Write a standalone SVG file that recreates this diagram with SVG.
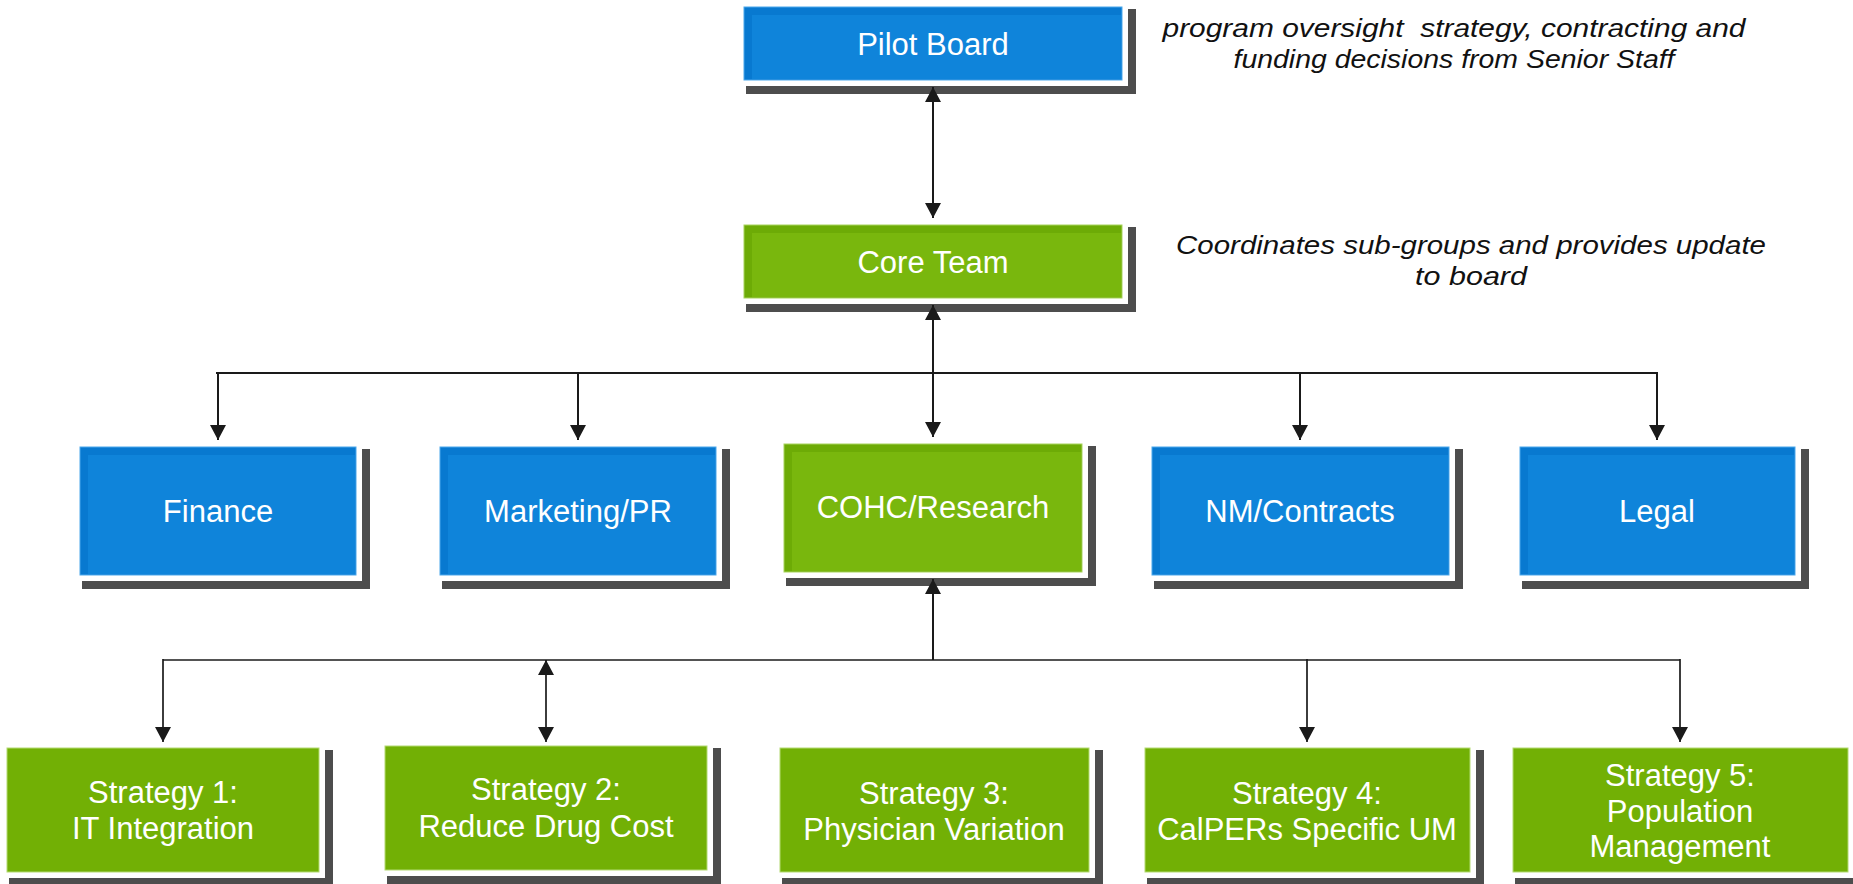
<svg xmlns="http://www.w3.org/2000/svg" width="1853" height="884" viewBox="0 0 1853 884">
<style>
  .shadow { fill: #4d4d4d; }
  .gap { fill: #ffffff; }
  .blue .box { fill: #0879d0; stroke: #4aa8ec; stroke-width: 1; }
  .blue .inner { fill: #0f84da; }
  .green .box { fill: #6dab06; stroke: #a8d35c; stroke-width: 1; }
  .green .inner { fill: #79b70d; }
  .flat .box { fill: #72b005; stroke: #b3da72; stroke-width: 1; }
  .label { fill: #ffffff; font-family: "Liberation Sans", Arial, sans-serif; font-size: 31px; text-anchor: middle; }
  .note { fill: #111111; font-family: "Liberation Sans", Arial, sans-serif; font-size: 26px; font-style: italic; text-anchor: middle; white-space: pre; }
  .conn { fill: none; stroke: #1a1a1a; stroke-width: 2; }
  .conn2 { fill: none; stroke: #1a1a1a; stroke-width: 1.7; }
</style>
<defs>
  <marker id="arrow" markerUnits="userSpaceOnUse" markerWidth="16" markerHeight="16" refX="15" refY="8" orient="auto-start-reverse">
    <path d="M0,0 L15,8 L0,16 Z" fill="#1a1a1a"/>
  </marker>
</defs>
<rect x="0" y="0" width="1853" height="884" fill="#ffffff"/>

<!-- Nodes -->
<g id="pilot-board" class="node blue">
  <rect class="shadow" x="746" y="9" width="390" height="85"/>
  <rect class="gap" x="744" y="7" width="384" height="79"/>
  <rect class="box" x="744" y="7" width="378" height="73"/>
  <rect class="inner" x="752" y="15" width="369" height="64"/>
  <text class="label" x="933" y="55">Pilot Board</text>
</g>
<g id="core-team" class="node green">
  <rect class="shadow" x="746" y="227" width="390" height="85"/>
  <rect class="gap" x="744" y="225" width="384" height="79"/>
  <rect class="box" x="744" y="225" width="378" height="73"/>
  <rect class="inner" x="752" y="233" width="369" height="64"/>
  <text class="label" x="933" y="273">Core Team</text>
</g>
<g id="finance" class="node blue">
  <rect class="shadow" x="82" y="449" width="288" height="140"/>
  <rect class="gap" x="80" y="447" width="282" height="134"/>
  <rect class="box" x="80" y="447" width="276" height="128"/>
  <rect class="inner" x="88" y="455" width="267" height="119"/>
  <text class="label" x="218" y="522">Finance</text>
</g>
<g id="marketing-pr" class="node blue">
  <rect class="shadow" x="442" y="449" width="288" height="140"/>
  <rect class="gap" x="440" y="447" width="282" height="134"/>
  <rect class="box" x="440" y="447" width="276" height="128"/>
  <rect class="inner" x="448" y="455" width="267" height="119"/>
  <text class="label" x="578" y="522">Marketing/PR</text>
</g>
<g id="cohc-research" class="node green">
  <rect class="shadow" x="786" y="446" width="310" height="140"/>
  <rect class="gap" x="784" y="444" width="304" height="134"/>
  <rect class="box" x="784" y="444" width="298" height="128"/>
  <rect class="inner" x="792" y="452" width="289" height="119"/>
  <text class="label" x="933" y="518">COHC/Research</text>
</g>
<g id="nm-contracts" class="node blue">
  <rect class="shadow" x="1154" y="449" width="309" height="140"/>
  <rect class="gap" x="1152" y="447" width="303" height="134"/>
  <rect class="box" x="1152" y="447" width="297" height="128"/>
  <rect class="inner" x="1160" y="455" width="288" height="119"/>
  <text class="label" x="1300" y="522">NM/Contracts</text>
</g>
<g id="legal" class="node blue">
  <rect class="shadow" x="1522" y="449" width="287" height="140"/>
  <rect class="gap" x="1520" y="447" width="281" height="134"/>
  <rect class="box" x="1520" y="447" width="275" height="128"/>
  <rect class="inner" x="1528" y="455" width="266" height="119"/>
  <text class="label" x="1657" y="522">Legal</text>
</g>

<g id="strategy-1" class="node flat">
  <rect class="shadow" x="9" y="750" width="324" height="136"/>
  <rect class="gap" x="7" y="748" width="318" height="130"/>
  <rect class="box" x="7" y="748" width="312" height="124"/>
  <text class="label" x="163" y="803">Strategy 1:</text>
  <text class="label" x="163" y="839">IT Integration</text>
</g>
<g id="strategy-2" class="node flat">
  <rect class="shadow" x="387" y="748" width="334" height="136"/>
  <rect class="gap" x="385" y="746" width="328" height="130"/>
  <rect class="box" x="385" y="746" width="322" height="124"/>
  <text class="label" x="546" y="800">Strategy 2:</text>
  <text class="label" x="546" y="837">Reduce Drug Cost</text>
</g>
<g id="strategy-3" class="node flat">
  <rect class="shadow" x="782" y="750" width="321" height="136"/>
  <rect class="gap" x="780" y="748" width="315" height="130"/>
  <rect class="box" x="780" y="748" width="309" height="124"/>
  <text class="label" x="934" y="804">Strategy 3:</text>
  <text class="label" x="934" y="840">Physician Variation</text>
</g>
<g id="strategy-4" class="node flat">
  <rect class="shadow" x="1147" y="750" width="337" height="136"/>
  <rect class="gap" x="1145" y="748" width="331" height="130"/>
  <rect class="box" x="1145" y="748" width="325" height="124"/>
  <text class="label" x="1307" y="804">Strategy 4:</text>
  <text class="label" x="1307" y="840">CalPERs Specific UM</text>
</g>
<g id="strategy-5" class="node flat">
  <rect class="shadow" x="1515" y="750" width="347" height="136"/>
  <rect class="gap" x="1513" y="748" width="341" height="130"/>
  <rect class="box" x="1513" y="748" width="335" height="124"/>
  <text class="label" x="1680" y="786">Strategy 5:</text>
  <text class="label" x="1680" y="822">Population</text>
  <text class="label" x="1680" y="857">Management</text>
</g>

<!-- Annotations -->
<g id="note-pilot">
  <text class="note" x="1454" y="37" textLength="583" lengthAdjust="spacingAndGlyphs" xml:space="preserve">program oversight  strategy, contracting and</text>
  <text class="note" x="1454" y="68" textLength="441" lengthAdjust="spacingAndGlyphs">funding decisions from Senior Staff</text>
</g>
<g id="note-core">
  <text class="note" x="1471" y="254" textLength="590" lengthAdjust="spacingAndGlyphs">Coordinates sub-groups and provides update</text>
  <text class="note" x="1471" y="285" textLength="112" lengthAdjust="spacingAndGlyphs">to board</text>
</g>

<!-- Connectors -->
<g id="connectors">
  <line class="conn" x1="933" y1="87" x2="933" y2="218" marker-start="url(#arrow)" marker-end="url(#arrow)"/>
  <line class="conn" x1="933" y1="305" x2="933" y2="373" marker-start="url(#arrow)"/>
  <line class="conn" x1="216" y1="373" x2="1657" y2="373"/>
  <line class="conn" x1="218" y1="372" x2="218" y2="440" marker-end="url(#arrow)"/>
  <line class="conn" x1="578" y1="372" x2="578" y2="440" marker-end="url(#arrow)"/>
  <line class="conn" x1="933" y1="372" x2="933" y2="437" marker-end="url(#arrow)"/>
  <line class="conn" x1="1300" y1="372" x2="1300" y2="440" marker-end="url(#arrow)"/>
  <line class="conn" x1="1657" y1="372" x2="1657" y2="440" marker-end="url(#arrow)"/>

  <line class="conn" x1="933" y1="579" x2="933" y2="660" marker-start="url(#arrow)"/>
  <line class="conn2" x1="163" y1="660" x2="1680" y2="660"/>
  <line class="conn2" x1="163" y1="659" x2="163" y2="742" marker-end="url(#arrow)"/>
  <line class="conn2" x1="546" y1="660" x2="546" y2="742" marker-start="url(#arrow)" marker-end="url(#arrow)"/>
  <line class="conn2" x1="1307" y1="659" x2="1307" y2="742" marker-end="url(#arrow)"/>
  <line class="conn2" x1="1680" y1="659" x2="1680" y2="742" marker-end="url(#arrow)"/>
</g>
</svg>
